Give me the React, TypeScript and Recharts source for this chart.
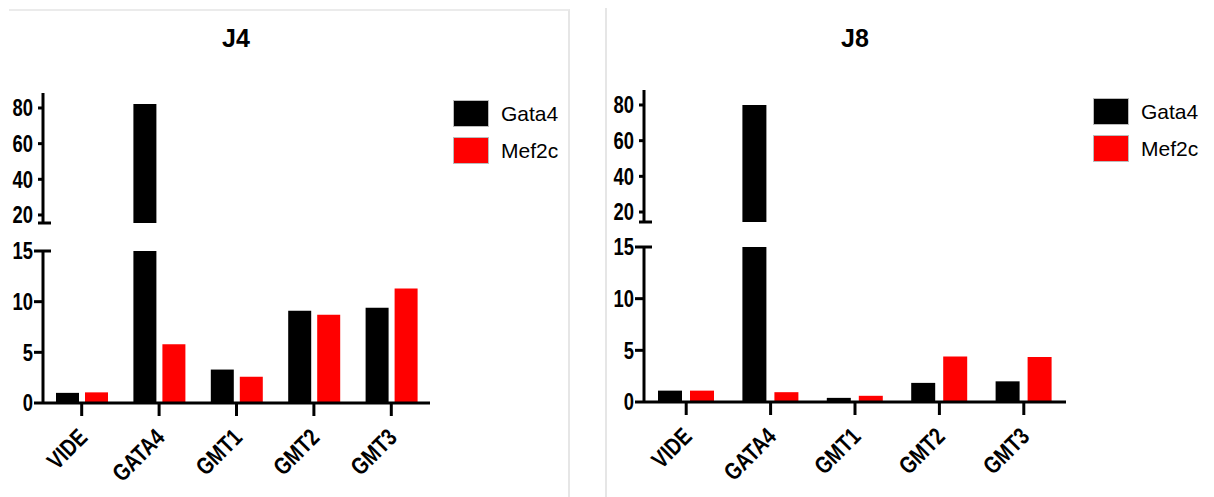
import { BarChart, Bar, XAxis, YAxis } from 'recharts'

// categories on the x axis
const categories = ['VIDE', 'GATA4', 'GMT1', 'GMT2', 'GMT3']
const seriesNames = ['Gata4', 'Mef2c']
const seriesColors = ['#000000', '#ff0000']

// J4
const j4Gata4 = [1.0, 82.2, 3.3, 9.1, 9.4]
const j4Mef2c = [1.05, 5.8, 2.6, 8.7, 11.3]
// J8
const j8Gata4 = [1.1, 80.0, 0.4, 1.85, 2.0]
const j8Mef2c = [1.1, 0.95, 0.6, 4.4, 4.35]

const lowerTicks = [0, 5, 10, 15]
const upperTicks = [20, 40, 60, 80]
const BREAK = 15

const SANS = "'Liberation Sans', Arial, sans-serif"
// no narrow face installed: squeeze the bold sans horizontally instead
const SQUEEZE = 0.8

type Layout = {
  left: number
  axisX: number
  axisEnd: number
  upperTop: number
  upperBottom: number
  upperMin: number
  upperMax: number
  lowerTop: number
  lowerBottom: number
  barSize: number
  barGap: number
  titleX: number
  legendX: number
  legendY: number
}

const leftLayout: Layout = {
  left: 0, axisX: 43, axisEnd: 430,
  upperTop: 93, upperBottom: 223, upperMin: 15.5, upperMax: 88.4,
  lowerTop: 251, lowerBottom: 403,
  barSize: 23, barGap: 6, titleX: 236, legendX: 453, legendY: 100,
}

const rightLayout: Layout = {
  left: 600, axisX: 644, axisEnd: 1066,
  upperTop: 90, upperBottom: 222, upperMin: 14.4, upperMax: 88.4,
  lowerTop: 247, lowerBottom: 402,
  barSize: 24, barGap: 8, titleX: 855, legendX: 1093, legendY: 98,
}

function makeYTick(capValue: number, capLeft: number) {
  return (props: any) => {
    const { x, y, payload } = props
    const v = payload.value
    const isCap = v === capValue
    const showLabel = !(isCap && capLeft < 9)
    return (
      <g>
        <line x1={x - capLeft} x2={isCap ? x + 8 : x} y1={y} y2={y} stroke="#000" strokeWidth={3} />
        {showLabel && (
          <text
            transform={`translate(${x - 10} ${y}) scale(${SQUEEZE} 1)`}
            x={0}
            y={0}
            textAnchor="end"
            dominantBaseline="central"
            fontFamily={SANS}
            fontWeight="bold"
            fontSize={23}
            fill="#000"
          >
            {v}
          </text>
        )}
      </g>
    )
  }
}

function XTick(props: any) {
  const { x, y, payload } = props
  const ex = x + 7
  const ey = y + 21
  return (
    <text
      transform={`translate(${ex} ${ey}) rotate(-45) scale(${SQUEEZE} 1)`}
      x={0}
      y={0}
      textAnchor="end"
      fontFamily={SANS}
      fontWeight="bold"
      fontSize={24}
      fill="#000"
    >
      {payload.value}
    </text>
  )
}

function Panel({ title, gata4, mef2c, layout }: { title: string; gata4: number[]; mef2c: number[]; layout: Layout }) {
  const rows = categories.map((name, i) => ({ name, Gata4: gata4[i], Mef2c: mef2c[i] }))
  const upperRows = rows.map((r) => ({
    name: r.name,
    Gata4: r.Gata4 > BREAK ? r.Gata4 : null,
    Mef2c: r.Mef2c > BREAK ? r.Mef2c : null,
  }))
  const lowerRows = rows.map((r) => ({
    name: r.name,
    Gata4: Math.min(r.Gata4, BREAK),
    Mef2c: Math.min(r.Mef2c, BREAK),
  }))

  const L = layout
  const chartWidth = L.axisEnd - L.left + 20
  const yWidth = L.axisX - L.left
  const upperH = L.upperBottom - L.upperTop + 30
  const lowerPad = 18
  const lowerTopPx = L.lowerTop - lowerPad
  const lowerH = 497 - lowerTopPx
  const xAxisH = lowerH - lowerPad - (L.lowerBottom - L.lowerTop)

  return (
    <>
      <div
        style={{
          position: 'absolute',
          left: L.titleX - 60,
          width: 120,
          top: 24,
          textAlign: 'center',
          fontFamily: SANS,
          fontWeight: 'bold',
          fontSize: 25,
          color: '#000',
        }}
      >
        {title}
      </div>

      <div style={{ position: 'absolute', left: L.left, top: L.upperTop - 15 }}>
        <BarChart
          width={chartWidth}
          height={upperH}
          data={upperRows}
          margin={{ top: 15, right: 20, left: 0, bottom: 15 }}
          barSize={L.barSize}
          barGap={L.barGap}
        >
          <XAxis dataKey="name" hide />
          <YAxis
            type="number"
            domain={[L.upperMin, L.upperMax]}
            ticks={[L.upperMin, ...upperTicks]}
            interval={0}
            allowDataOverflow
            width={yWidth}
            tickSize={0}
            tickMargin={0}
            tickLine={false}
            axisLine={{ stroke: '#000', strokeWidth: 3 }}
            tick={makeYTick(L.upperMin, 5)}
          />
          {seriesNames.map((s, i) => (
            <Bar key={s} dataKey={s} fill={seriesColors[i]} isAnimationActive={false} />
          ))}
        </BarChart>
      </div>

      <div style={{ position: 'absolute', left: L.left, top: lowerTopPx }}>
        <BarChart
          width={chartWidth}
          height={lowerH}
          data={lowerRows}
          margin={{ top: lowerPad, right: 20, left: 0, bottom: 0 }}
          barSize={L.barSize}
          barGap={L.barGap}
        >
          <XAxis
            dataKey="name"
            height={xAxisH}
            interval={0}
            tickSize={13}
            tickMargin={2}
            tickLine={{ stroke: '#000', strokeWidth: 3 }}
            axisLine={{ stroke: '#000', strokeWidth: 3 }}
            tick={<XTick />}
          />
          <YAxis
            type="number"
            domain={[0, BREAK]}
            ticks={lowerTicks}
            interval={0}
            width={yWidth}
            tickSize={0}
            tickMargin={0}
            tickLine={false}
            axisLine={{ stroke: '#000', strokeWidth: 3 }}
            tick={makeYTick(BREAK, 9)}
          />
          {seriesNames.map((s, i) => (
            <Bar key={s} dataKey={s} fill={seriesColors[i]} isAnimationActive={false} />
          ))}
        </BarChart>
      </div>

      {seriesNames.map((s, i) => (
        <div
          key={s}
          style={{
            position: 'absolute',
            left: L.legendX,
            top: L.legendY + i * 37,
            display: 'flex',
            alignItems: 'center',
            height: 27,
          }}
        >
          <div
            style={{
              width: 34,
              height: 25,
              background: seriesColors[i],
              border: '1px solid #bbbbbb',
            }}
          />
          <span style={{ marginLeft: 12, fontFamily: SANS, fontSize: 21, color: '#000' }}>{s}</span>
        </div>
      ))}
    </>
  )
}

export default function App() {
  return (
    <div style={{ position: 'relative', width: 1214, height: 497, background: '#fff', overflow: 'hidden' }}>
      <style>{`body { margin: 0; }`}</style>
      <div
        style={{
          position: 'absolute',
          left: 9,
          top: 9,
          width: 559,
          height: 490,
          borderTop: '2px solid #ebebeb',
          borderRight: '2px solid #e6e6e6',
        }}
      />
      <div
        style={{
          position: 'absolute',
          left: 605,
          top: 8,
          height: 490,
          borderLeft: '2px solid #e6e6e6',
        }}
      />
      <Panel title="J4" gata4={j4Gata4} mef2c={j4Mef2c} layout={leftLayout} />
      <Panel title="J8" gata4={j8Gata4} mef2c={j8Mef2c} layout={rightLayout} />
    </div>
  )
}
